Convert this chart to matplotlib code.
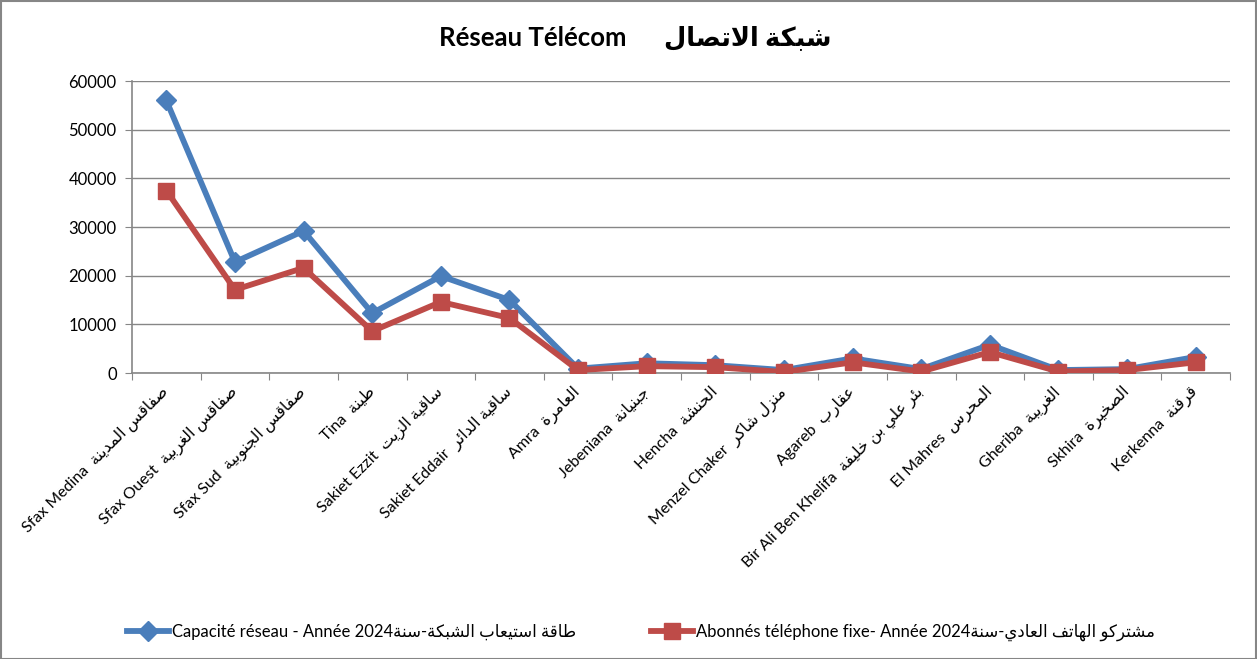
import matplotlib
matplotlib.use("Agg")
import matplotlib.pyplot as plt
from matplotlib.patches import Rectangle

# ---------------- data ----------------
names_fr = ["Sfax Medina", "Sfax Ouest", "Sfax Sud", "Tina", "Sakiet Ezzit",
            "Sakiet Eddair", "Amra", "Jebeniana", "Hencha", "Menzel Chaker",
            "Agareb", "Bir Ali Ben Khelifa", "El Mahres", "Gheriba", "Skhira",
            "Kerkenna"]
names_ar = ["صفاقس المدينة", "صفاقس الغربية", "صفاقس الجنوبية", "طينة",
            "ساقية الزيت", "ساقية الدائر", "العامرة", "جبنيانة", "الحنشة",
            "منزل شاكر", "عقارب", "بئر علي بن خليفة", "المحرس", "الغريبة",
            "الصخيرة", "قرقنة"]
capacite = [56000, 22800, 29200, 12300, 19900, 15000, 900, 2000, 1600, 600,
            3000, 800, 5800, 600, 800, 3300]
abonnes = [37500, 17100, 21600, 8600, 14600, 11300, 600, 1400, 1200, 200,
           2200, 300, 4300, 300, 600, 2200]
yticks = [0, 10000, 20000, 30000, 40000, 50000, 60000]
title_fr = "Réseau Télécom"
title_ar = "شبكة الاتصال"
leg1_fr, leg1_ar = "Capacité réseau - Année 2024", "طاقة استيعاب الشبكة-سنة"
leg2_fr, leg2_ar = "Abonnés téléphone fixe- Année 2024", "مشتركو الهاتف العادي-سنة"

# ---------------- minimal Arabic shaping ----------------
DUAL = {'ب': 0xFE8F, 'ت': 0xFE95, 'ث': 0xFE99, 'ج': 0xFE9D, 'ح': 0xFEA1,
        'خ': 0xFEA5, 'س': 0xFEB1, 'ش': 0xFEB5, 'ص': 0xFEB9, 'ض': 0xFEBD,
        'ط': 0xFEC1, 'ظ': 0xFEC5, 'ع': 0xFEC9, 'غ': 0xFECD, 'ف': 0xFED1,
        'ق': 0xFED5, 'ك': 0xFED9, 'ل': 0xFEDD, 'م': 0xFEE1, 'ن': 0xFEE5,
        'ه': 0xFEE9, 'ي': 0xFEF1, 'ئ': 0xFE89}
RIGHT = {'ا': 0xFE8D, 'ة': 0xFE93, 'د': 0xFEA9, 'ذ': 0xFEAB, 'ر': 0xFEAD,
         'ز': 0xFEAF, 'و': 0xFEED, 'ى': 0xFEEF, 'أ': 0xFE83, 'إ': 0xFE87,
         'آ': 0xFE81, 'ؤ': 0xFE85, 'LA': 0xFEFB}


def shape(text):
    toks = []
    i = 0
    while i < len(text):
        if text[i] == 'ل' and i + 1 < len(text) and text[i + 1] == 'ا':
            toks.append('LA')
            i += 2
        else:
            toks.append(text[i])
            i += 1
    out = []
    for k, t in enumerate(toks):
        prev = toks[k - 1] if k > 0 else None
        nxt = toks[k + 1] if k + 1 < len(toks) else None
        pj = prev in DUAL
        nj = nxt in DUAL or nxt in RIGHT
        if t in DUAL:
            b = DUAL[t]
            if pj and nj:
                c = b + 3
            elif nj:
                c = b + 2
            elif pj:
                c = b + 1
            else:
                c = b
            out.append(chr(c))
        elif t in RIGHT:
            b = RIGHT[t]
            out.append(chr(b + 1 if pj else b))
        else:
            out.append(t)
    return "".join(reversed(out))


FAM = ["Lato", "DejaVu Sans"]
plt.rcParams['font.family'] = FAM

W, H = 1257, 659
fig = plt.figure(figsize=(W / 100, H / 100), dpi=100)
fig.patches.append(Rectangle((0.5 / W, 0.5 / H), 1 - 1.5 / W, 1 - 1.5 / H,
                             transform=fig.transFigure, fill=False,
                             edgecolor="#868686", linewidth=1.5))

ax = fig.add_axes([132 / W, 1 - 373 / H, (1230 - 132) / W, (373 - 81) / H])
x = list(range(len(names_fr)))
blue, red = "#4A7EBB", "#BE4B48"
ax.plot(x, capacite, color=blue, lw=4.2, marker="D", ms=10,
        label=leg1_fr + shape(leg1_ar), zorder=3)
ax.plot(x, abonnes, color=red, lw=4.2, marker="s", ms=12,
        label=leg2_fr + shape(leg2_ar), zorder=4)

ax.set_xlim(-0.5, len(x) - 0.5)
ax.set_ylim(0, 60000)
ax.set_yticks(yticks)
ax.set_yticklabels([str(v) for v in yticks], fontsize=12)
ax.yaxis.grid(True, color="#868686", lw=1)
ax.set_axisbelow(True)
for s in ["top", "right"]:
    ax.spines[s].set_visible(False)
for s in ["left", "bottom"]:
    ax.spines[s].set_color("#868686")
    ax.spines[s].set_linewidth(1.2)
ax.tick_params(axis="y", length=5, color="#868686", pad=6)

ax.set_xticks([i - 0.5 for i in range(len(x) + 1)], minor=False)
ax.set_xticklabels([])
ax.tick_params(axis="x", which="major", length=5, color="#868686")
ax.set_xticks(x, minor=True)
ax.set_xticklabels([f + "  " + shape(a) for f, a in zip(names_fr, names_ar)],
                   minor=True, rotation=45, ha="right", va="center",
                   rotation_mode="anchor", fontsize=11.5)
ax.tick_params(axis="x", which="minor", length=0, pad=12)

fig.text(0.505, 1 - 38 / H, title_fr + "      " + shape(title_ar),
         ha="center", va="center", fontsize=18.5, fontweight="bold")

fig.legend(loc="center", bbox_to_anchor=(0.51, 1 - 632 / H), ncol=2,
           frameon=False, fontsize=12, columnspacing=4.5, handlelength=2.5,
           handletextpad=0.2)

fig.savefig("out.png", dpi=100)
